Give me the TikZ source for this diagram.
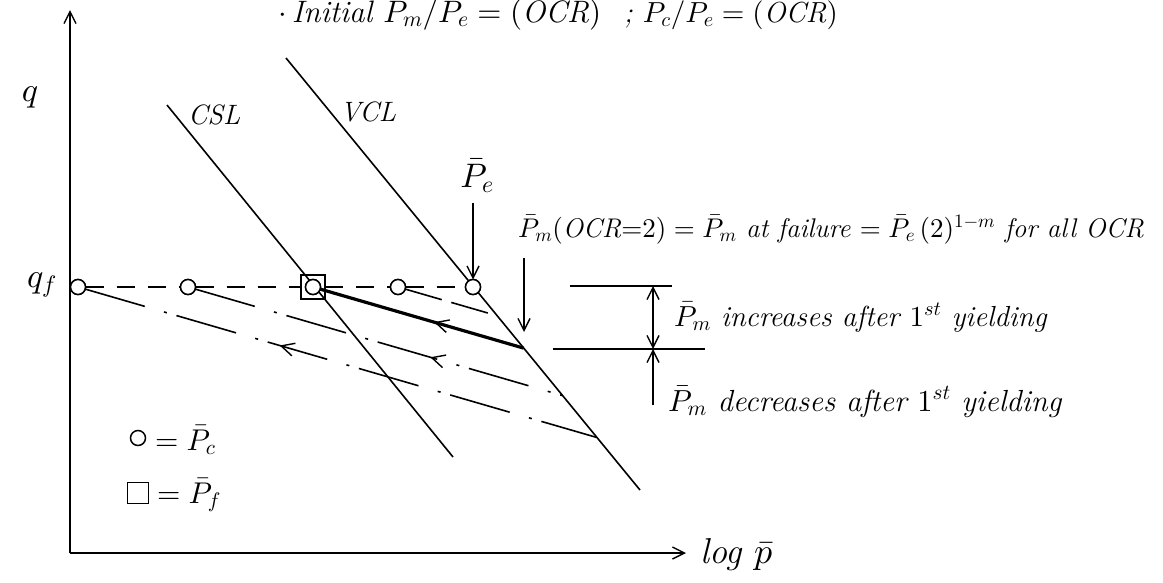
\documentclass[tikz,border=0pt]{standalone}
\DeclareFontShape{OT1}{cmr}{m}{n}{<->cmr10}{}
\DeclareFontShape{OT1}{cmr}{m}{it}{<->cmti10}{}
\DeclareFontShape{OML}{cmm}{m}{it}{<->cmmi10}{}
\DeclareFontShape{OMS}{cmsy}{m}{n}{<->cmsy10}{}
\DeclareFontShape{OMX}{cmex}{m}{n}{<->cmex10}{}
\usepackage{amsmath}
\usetikzlibrary{arrows.meta,decorations.markings}
\newcommand{\ocr}{\textit{OCR}}
\begin{document}
\begin{tikzpicture}[x=1pt,y=-1pt,
  every node/.style={inner sep=0pt,outer sep=0pt},
  ln/.style={line width=1.6pt},
  thk/.style={line width=3.2pt},
  tip/.style={-{Straight Barb[length=12pt,width=12pt,line width=1.4pt]}},
  dtip/.style={{Straight Barb[length=12pt,width=12pt,line width=1.4pt]}-{Straight Barb[length=12pt,width=12pt,line width=1.4pt]}},
  pc/.style={circle,draw,line width=1.5pt,fill=white,minimum size=15pt},
  pf/.style={rectangle,draw,line width=1.5pt,minimum size=24pt},
  fs/.style={font=\fontsize{#1}{#1}\selectfont\itshape},
  qdash/.style={ln,dash pattern=on 18pt off 13pt},
  ldash/.style={ln,dash pattern=on 62pt off 20pt on 3pt off 10pt},
  midarrow/.style={postaction={decorate},decoration={markings,
     mark=at position #1 with {\arrowreversed[line width=1.4pt]{Straight Barb[length=13pt,width=13pt]}}}}
]
\useasboundingbox (0,0) rectangle (1163,582);

% axes
\coordinate (o) at (70,553);
\coordinate (yt) at (70,10);
\coordinate (xt) at (686,553);
\draw[ln,tip] (o) -- (yt);
\draw[ln,tip] (o) -- (xt);

% VCL and CSL
\coordinate (vt) at (286,58);
\coordinate (vb) at (640,490);
\coordinate (ct) at (167,105);
\coordinate (cb) at (453,457);
\draw[ln] (vt) -- (vb);
\draw[ln] (ct) -- (cb);

% intersections with VCL
\coordinate (m1) at (596.9,437.5);
\coordinate (m2) at (562.6,395.6);
\coordinate (m3) at (523.6,348.1);
\coordinate (m4) at (497.1,315.7);

% points on q_f
\node[pc] (c1) at (78,287) {};
\node[pc] (c2) at (188,287) {};
\node[pf] (sqf) at (313,287) {};
\node[pc] (c4) at (398,287) {};
\node[pc] (c5) at (473,287) {};

% unloading lines
\draw[ldash,midarrow=0.38] (c1) -- (m1);
\draw[ldash,midarrow=0.64] (c2) -- (m2);
\draw[ln,dash pattern=on 38pt off 10pt] (c4) -- (m4);
\node[pc] (c3) at (313,287) {};
\draw[thk,midarrow=0.56] (c3) -- (m3);

% q_f dashed line
\draw[qdash] (c1) -- (c2);
\draw[qdash] (c2) -- (sqf);
\draw[qdash] (sqf) -- (c4);
\draw[qdash] (c4) -- (c5);
\node[pc] at (78,287) {};
\node[pc] at (188,287) {};
\node[pc] at (398,287) {};
\node[pc] at (473,287) {};
\node[pc] at (313,287) {};

% axis labels
\node[fs=34] (q) at (30,97) {$q$};
\node[fs=34] (qf) at (42,285) {$q_f$};
\node[fs=36,anchor=base west] (logp) at (700,563) {log $\bar p$};
\node[fs=28,anchor=base west] (csl) at (188,124) {CSL};
\node[fs=28,anchor=base west] (vcl) at (340,121) {VCL};

% P_e label and arrow
\node[fs=34] (pe) at (477,176) {$\bar P_e$};
\coordinate (pes) at (473,203);
\draw[ln,tip] (pes) -- (c5);

% long text
\node[fs=27,anchor=base west] (pmtxt) at (518,237)
  {$\bar P_m(\ocr{=}2) = \bar P_m$ at failure $= \bar P_e\,(2)^{1-m}$ for all \ocr};
\coordinate (pma) at (524,258);
\coordinate (pmb) at (524,332);
\draw[ln,tip] (pma) -- (pmb);

% right annotation
\coordinate (u1) at (570,286);
\coordinate (u2) at (672,286);
\coordinate (l1) at (553,349);
\coordinate (l2) at (705,349);
\draw[ln] (u1) -- (u2);
\draw[ln] (l1) -- (l2);
\coordinate (du) at (653,286);
\coordinate (dl) at (653,349);
\coordinate (db) at (653,405);
\draw[ln,dtip] (du) -- (dl);
\draw[ln,tip] (db) -- (dl);
\node[fs=29,anchor=base west] (inc) at (674,326) {$\bar P_m$ increases after $1^{st}$ yielding};
\node[fs=30.5,anchor=base west] (dec) at (668,411) {$\bar P_m$ decreases after $1^{st}$ yielding};

% legend
\node[pc] (lc) at (138,438) {};
\node[fs=30,anchor=west] (lct) at (155,440) {$=\bar P_c$};
\node[pf,minimum size=21pt] (ls) at (138,493) {};
\node[fs=30,anchor=west] (lst) at (157,495) {$=\bar P_f$};

% top text (cut off at the top edge)
\node[fs=31,anchor=base west] (top1) at (278,22)
  {$\cdot$\,Initial $P_m/P_e = (\ocr)$};
\node[fs=29,anchor=base west] (top2) at (624,22)
  {; $P_c/P_e = (\ocr)$};
\end{tikzpicture}
\end{document}
